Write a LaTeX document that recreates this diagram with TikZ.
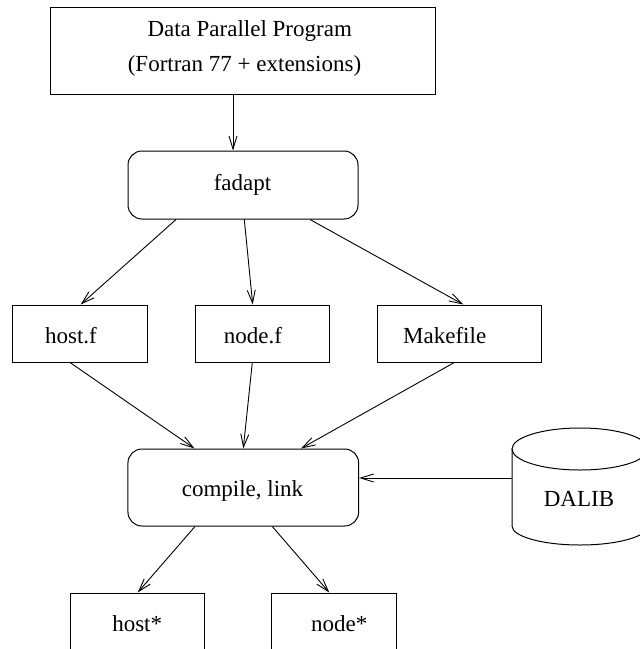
\documentclass[tikz,border=0pt]{standalone}
\usepackage{fontspec}
\setmainfont{Liberation Serif}
\usetikzlibrary{arrows.meta}
\begin{document}
\begin{tikzpicture}[x=1pt,y=1pt,
  every node/.style={inner sep=0pt},
  box/.style={draw,line width=1pt,rectangle},
  rbox/.style={draw,line width=1pt,rectangle,rounded corners=14pt},
  txt/.style={anchor=base,font=\fontsize{23}{28}\selectfont},
  arr/.style={line width=0.9pt,-{Straight Barb[length=13pt,width=8pt,line width=0.9pt]}}]
\useasboundingbox (0,0) rectangle (640,-649);
\clip (0,0) rectangle (640,-649);
\fill[white] (0,0) rectangle (640,-649);
% boxes
\node[box,minimum width=384.3pt,minimum height=86.7pt] (top) at (242.85,-50.65) {};
\node[rbox,minimum width=230pt,minimum height=68pt] (fad) at (243,-185) {};
\node[box,minimum width=134.6pt,minimum height=57pt] (hostf) at (80,-333.5) {};
\node[box,minimum width=134.3pt,minimum height=57pt] (nodef) at (262.2,-333.5) {};
\node[box,minimum width=163.7pt,minimum height=57pt] (make) at (459.2,-333.5) {};
\node[rbox,minimum width=230.7pt,minimum height=77pt] (comp) at (243.3,-487.5) {};
\node[box,minimum width=134pt,minimum height=57pt] (hoststar) at (137.7,-621.5) {};
\node[box,minimum width=124.7pt,minimum height=57pt] (nodestar) at (334.3,-621.5) {};
\node[minimum width=136pt,minimum height=117pt] (dalib) at (580,-486.5) {};
% cylinder
\draw[line width=1pt] (580,-449) ellipse [x radius=68, y radius=21];
\draw[line width=1pt] (512,-449) -- (512,-526)
  arc[start angle=180,end angle=360,x radius=68,y radius=19] -- (648,-449);
% texts
\node[txt] (t1) at (249.7,-36) {Data Parallel Program};
\node[txt] (t2) at (244.5,-71) {(Fortran 77 + extensions)};
\node[txt] (t3) at (242.5,-190) {fadapt};
\node[txt] (t4) at (71,-343.3) {host.f};
\node[txt] (t5) at (253,-343.3) {node.f};
\node[txt] (t6) at (444.7,-343.3) {Makefile};
\node[txt] (t7) at (242.5,-496.7) {compile, link};
\node[txt] (t8) at (579,-506.7) {DALIB};
\node[txt] (t9) at (137.2,-631.7) {host*};
\node[txt] (t10) at (339.2,-631.7) {node*};
% connectors
\draw[arr] (top.south -| 233,0) -- (fad.north -| 233,0);
\draw[arr] (fad.south -| 176,0) -- (hostf.north -| 80.7,0);
\draw[arr] (fad.south -| 244.3,0) -- (nodef.north -| 252.7,0);
\draw[arr] (fad.south -| 310,0) -- (make.north -| 463.3,0);
\draw[arr] (hostf.south -| 70,0) -- (comp.north -| 194.5,0);
\draw[arr] (nodef.south -| 252.3,0) -- (comp.north -| 243.3,0);
\draw[arr] (make.south -| 454.3,0) -- (comp.north -| 301,0);
\draw[arr] (dalib.west |- 0,-478) -- (comp.east |- 0,-478);
\draw[arr] (comp.south -| 195,0) -- (hoststar.north -| 137.7,0);
\draw[arr] (comp.south -| 272.3,0) -- (nodestar.north -| 329.3,0);
\end{tikzpicture}
\end{document}
